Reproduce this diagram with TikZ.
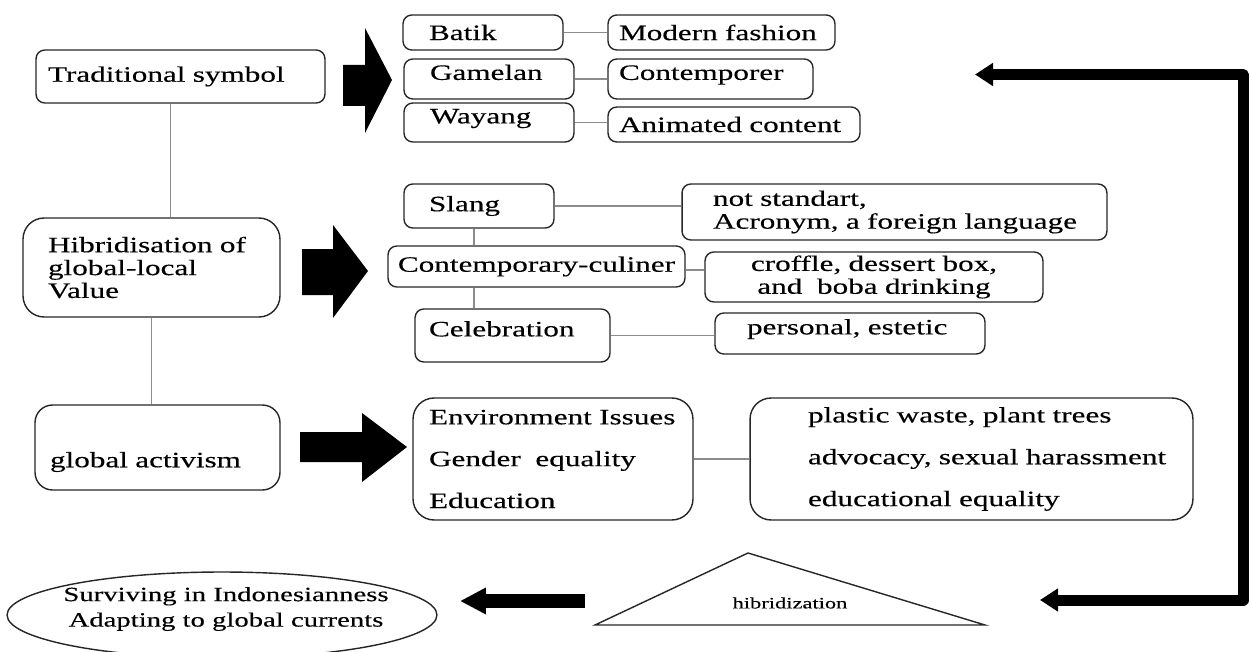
\documentclass[tikz,border=0pt]{standalone}
\usepackage{fontspec}
\setmainfont{Liberation Serif}[FakeStretch=1.42, FakeBold=0.3]
\usetikzlibrary{arrows.meta,shapes.geometric}

\tikzset{
  box/.style={draw=black!85, line width=0.8pt, rounded corners=5pt, inner ysep=0pt, align=left},
  link/.style={draw=black!45, line width=0.6pt},
  loopline/.style={line width=0.22cm, line join=round},
  upper/.style={text height=9pt, text depth=8pt},
}

\begin{document}
\begin{tikzpicture}[x=0.02cm, y=-0.02cm, font=\fontsize{12.5}{13}\selectfont]
\useasboundingbox (0,0) rectangle (1252,652);

% Left column
\node[box, minimum width=5.78cm, minimum height=1.06cm, text width=5.3cm, inner xsep=0.24cm] (trad) at (180.5,76.5) {Traditional symbol};
\node[box, rounded corners=12pt, minimum width=5.14cm, minimum height=1.98cm, text width=4.14cm, inner xsep=0.5cm] (hib) at (151.5,267.5) {\mbox{Hibridisation of}\\global-local\\Value};
\node[box, rounded corners=10pt, minimum width=4.9cm, minimum height=1.7cm, text width=4.3cm, inner xsep=0.3cm, text height=25pt, text depth=2.5pt] (act) at (157.5,447.5) {global activism};

% Traditional symbols
\node[box, minimum width=3.2cm, minimum height=0.7cm, text width=2.16cm, inner xsep=0.52cm] (batik) at (483,32.5) {Batik};
\node[box, minimum width=3.4cm, minimum height=0.8cm, text width=2.36cm, inner xsep=0.52cm, upper] (gamelan) at (489,79) {Gamelan};
\node[box, minimum width=3.4cm, minimum height=0.78cm, text width=2.36cm, inner xsep=0.52cm, upper] (wayang) at (489,122.5) {Wayang};
\node[box, minimum width=4.54cm, minimum height=0.7cm, text width=4.1cm, inner xsep=0.22cm] (modern) at (721.5,32.5) {Modern fashion};
\node[box, minimum width=4.1cm, minimum height=0.8cm, text width=3.66cm, inner xsep=0.22cm, upper] (contemp) at (710.5,79) {Contemporer};
\node[box, minimum width=5.04cm, minimum height=0.7cm, text width=4.6cm, inner xsep=0.22cm] (anim) at (734,124.5) {Animated content};

% Global-local values
\node[box, minimum width=3cm, minimum height=0.88cm, text width=2cm, inner xsep=0.5cm] (slang) at (479,206) {Slang};
\node[box, minimum width=8.5cm, minimum height=1.12cm, text width=7.26cm, inner xsep=0.62cm] (nonstd) at (894.5,212) {not standart,\\\mbox{Acronym, a foreign language}};
\node[box, minimum width=5.94cm, minimum height=0.82cm, text width=5.74cm, inner xsep=0.1cm, align=center] (culiner) at (536.5,266.5) {Contemporary-culiner};
\node[box, minimum width=6.76cm, minimum height=1cm, text width=6.56cm, inner xsep=0.1cm, align=center] (croffle) at (874,277) {croffle, dessert box,\\and~ boba drinking};
\node[box, minimum width=3.9cm, minimum height=1.06cm, text width=3.34cm, inner xsep=0.28cm, upper] (celeb) at (512.5,335.5) {Celebration};
\node[box, minimum width=5.4cm, minimum height=0.82cm, text width=4.12cm, inner xsep=0.64cm, upper] (personal) at (850,333.5) {personal, estetic};

% Activism
\node[box, rounded corners=12pt, minimum width=5.6cm, minimum height=2.44cm, text width=4.96cm, inner xsep=0.32cm] (issues) at (553,459) {\mbox{Environment Issues}\\[0.38cm]\mbox{Gender~ equality}\\[0.38cm]Education};
\node[box, rounded corners=12pt, minimum width=8.86cm, minimum height=2.44cm, text width=6.54cm, inner xsep=1.16cm] (actions) at (971.5,459) {\mbox{plastic waste, plant trees}\\[0.38cm]\mbox{advocacy, sexual harassment}\\[0.38cm]\mbox{educational equality}};

% Result
\node[align=center, inner sep=0pt, font=\fontsize{11.5}{12.5}\selectfont] (result) at (226,609) {Surviving in Indonesianness\\[2pt]Adapting to global currents};
\draw[black!85, line width=0.8pt] (222,615) ellipse [x radius=4.3cm, y radius=0.86cm];
\draw[black!85, line width=0.8pt] (595,625) -- (748,553) -- (985,625) -- cycle;
\node[font=\fontsize{9}{10}\selectfont] (hibz) at (790,603) {hibridization};

% Connectors
\draw[link] ([xshift=-0.2cm]trad.south) -- ([xshift=-0.2cm]trad.south |- hib.north);
\draw[link] (hib.south) -- (hib.south |- act.north);
\draw[link] (batik.east) -- (batik.east -| modern.west);
\draw[link] (gamelan.east) -- (gamelan.east -| contemp.west);
\draw[link] (wayang.east) -- (wayang.east -| anim.west);
\draw[link] (slang.east) -- (slang.east -| nonstd.west);
\draw[link] ([yshift=-0.07cm]culiner.east) -- ([yshift=-0.07cm]culiner.east -| croffle.west);
\draw[link] (celeb.east) -- (celeb.east -| personal.west);
\draw[link] ([xshift=-0.1cm]slang.south) -- ([xshift=-0.1cm]slang.south |- culiner.north);
\draw[link] ([xshift=-0.1cm]slang.south |- culiner.south) -- ([xshift=-0.1cm]slang.south |- celeb.north);
\draw[link] (issues.east) -- (issues.east -| actions.west);

% Block arrows
\fill (343,65) -- (365,65) -- (365,28) -- (392,80) -- (365,133) -- (365,106) -- (343,106) -- cycle;
\fill (302,249) -- (333,249) -- (333,225) -- (368,271) -- (333,318) -- (333,295) -- (302,295) -- cycle;
\fill (300,432) -- (362,432) -- (362,413) -- (407,447) -- (362,482) -- (362,462) -- (300,462) -- cycle;

% Feedback loop
\coordinate (topTip) at (975,74.5);
\coordinate (botTip) at (1040,600);
\draw[loopline, {Triangle[length=0.36cm, width=0.44cm]}-{Triangle[length=0.36cm, width=0.44cm]}] (topTip) -- (1243,74.5) -- (1243,600) -- (botTip);

% Output arrow
\coordinate (outStart) at (585,601);
\coordinate (outTip) at (460,601);
\draw[line width=0.28cm, -{Triangle[length=0.52cm, width=0.5cm]}] (outStart) -- (outTip);
\end{tikzpicture}
\end{document}
